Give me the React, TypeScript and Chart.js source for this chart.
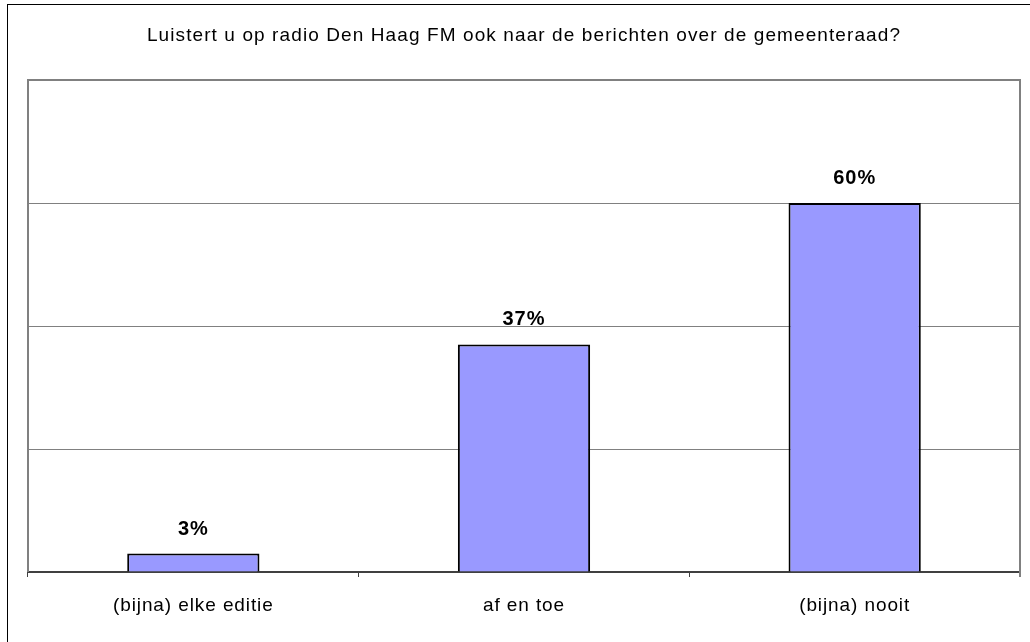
import React, { useEffect, useRef } from "react";
import { Chart, registerables } from "chart.js";

Chart.register(...registerables);

const title = "Luistert u op radio Den Haag FM ook naar de berichten over de gemeenteraad?";
const categories = ["(bijna) elke editie", "af en toe", "(bijna) nooit"];
const values = [3, 37, 60];
const labels = ["3%", "37%", "60%"];
const yMax = 80;
const yStep = 20;

const FONT = "Arial, 'Liberation Sans', sans-serif";

const decor = {
  id: "decor",
  beforeDraw(chart: any) {
    const ctx = chart.ctx;
    ctx.save();
    ctx.fillStyle = "#ffffff";
    ctx.fillRect(0, 0, chart.width, chart.height);
    // outer frame
    ctx.strokeStyle = "#000000";
    ctx.lineWidth = 1;
    ctx.strokeRect(7.5, 4.5, chart.width + 20, chart.height + 20);
    // title
    const a = chart.chartArea;
    ctx.fillStyle = "#000000";
    ctx.font = "19px " + FONT;
    ctx.letterSpacing = "1.1px";
    ctx.textAlign = "center";
    ctx.textBaseline = "alphabetic";
    ctx.fillText(title, (a.left + a.right) / 2, 41);
    ctx.restore();
  },
  afterDatasetsDraw(chart: any) {
    const ctx = chart.ctx;
    const a = chart.chartArea;
    ctx.save();
    // plot frame (left, top, right) in grey
    ctx.strokeStyle = "#808080";
    ctx.lineWidth = 2;
    ctx.beginPath();
    ctx.moveTo(a.left, a.bottom);
    ctx.lineTo(a.left, a.top);
    ctx.lineTo(a.right, a.top);
    ctx.lineTo(a.right, a.bottom + 5);
    ctx.stroke();
    // data labels
    const meta = chart.getDatasetMeta(0);
    ctx.fillStyle = "#000000";
    ctx.font = "bold 20px " + FONT;
    ctx.letterSpacing = "1px";
    ctx.textAlign = "center";
    ctx.textBaseline = "alphabetic";
    meta.data.forEach((bar: any, i: number) => {
      ctx.fillText(labels[i], bar.x, bar.y - 19);
    });
    // category labels
    const xs = chart.scales.x;
    ctx.font = "19px " + FONT;
    ctx.letterSpacing = "0.9px";
    categories.forEach((c, i) => {
      ctx.fillText(c, xs.getPixelForValue(i), 611);
    });
    ctx.restore();
  },
};

export default function App() {
  const ref = useRef<HTMLCanvasElement>(null);
  useEffect(() => {
    if (!ref.current) return;
    const chart = new Chart(ref.current, {
      type: "bar",
      data: {
        labels: categories,
        datasets: [
          {
            data: values,
            backgroundColor: "#9999FF",
            borderColor: "#000000",
            borderWidth: 2,
            categoryPercentage: 0.4,
            barPercentage: 1,
          },
        ],
      },
      options: {
        animation: false,
        responsive: false,
        maintainAspectRatio: false,
        layout: { padding: { left: 28, top: 80, right: 10, bottom: 0 } },
        plugins: {
          legend: { display: false },
          tooltip: { enabled: false },
          title: { display: false },
        },
        scales: {
          x: {
            grid: {
              offset: true,
              drawOnChartArea: false,
              drawTicks: true,
              tickLength: 5,
              color: "#404040",
              lineWidth: 1,
            },
            border: { display: true, color: "#404040", width: 2 },
            ticks: {
              display: false,
            },
            afterFit(scale: any) {
              scale.height = 70;
            },
          },
          y: {
            min: 0,
            max: yMax,
            ticks: { display: false, stepSize: yStep },
            grid: { drawTicks: false, color: "#808080", lineWidth: 1 },
            border: { display: false },
            afterFit(scale: any) {
              scale.width = 0;
            },
          },
        },
      },
      plugins: [decor],
    });
    return () => chart.destroy();
  }, []);
  return (
    <div style={{ position: "absolute", left: 0, top: 0, width: 1030, height: 642 }}>
      <canvas ref={ref} width={1030} height={642} style={{ display: "block" }} />
    </div>
  );
}
